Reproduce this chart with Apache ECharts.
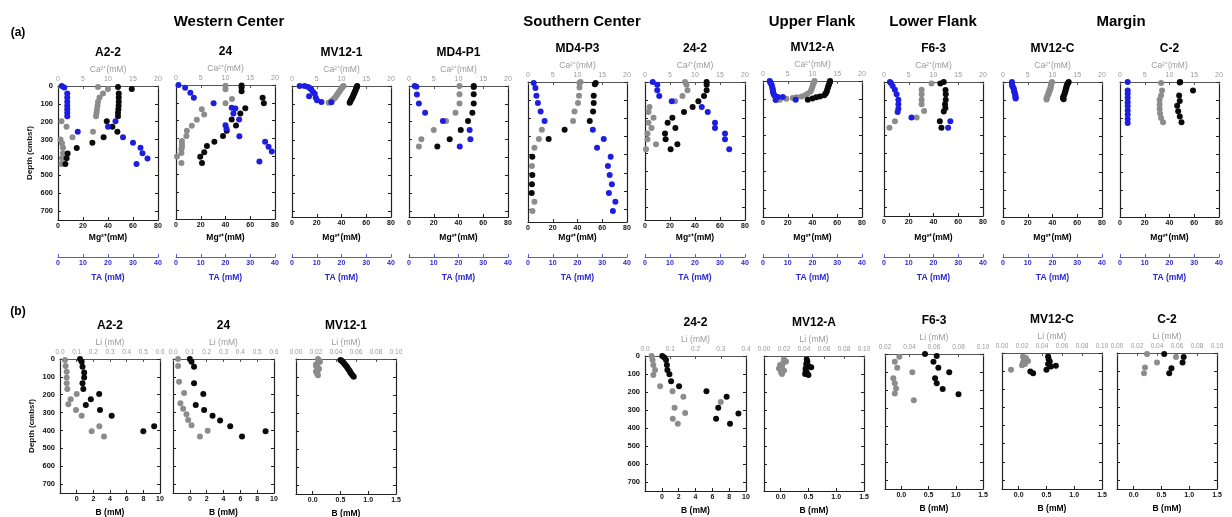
<!DOCTYPE html>
<html><head><meta charset="utf-8">
<script src="https://cdn.jsdelivr.net/npm/echarts@6/dist/echarts.min.js"></script>
<style>html,body{margin:0;padding:0;background:#fff}#c{width:1232px;height:517px}</style>
</head><body><div id="c"></div>
<script>
// ---------- DATA: [value, depth (cmbsf)] ----------
// (a) top row: Mg2+ (mM), Ca2+ (mM), TA (mM)
const A22_Mg = [[48,5],[59,17],[48.6,42],[48.6,65],[48.6,88],[48.5,110],[48.3,130],[48,150],[48,170],[39,197],[43.5,228],[47.5,256],[36.5,287],[27.5,317],[15,347],[7.7,378],[6.9,404],[5.9,436]];
const A22_Ca = [[8,5],[10,17],[9,42],[8.3,65],[8,88],[7.9,110],[7.8,130],[7.7,150],[7.6,170],[0.7,197],[1.7,228],[7,256],[2.9,287],[0.5,300],[0.8,320],[1,345],[1,376],[0.8,404],[0.7,436]];
const A22_TA = [[1.5,0],[2.5,8],[3.7,42],[3.7,65],[3.7,88],[3.7,110],[3.7,130],[3.7,150],[3.7,170],[23,197],[20,228],[7.9,256],[26,287],[30,317],[33,345],[33.8,376],[35.8,406],[31.4,436]];

const S24_Mg = [[53,3],[53,14],[53,35],[70,72],[71,102],[56,130],[52,160],[45,193],[48.5,226],[41,256],[38,286],[31,317],[25,342],[22.8,377],[19.6,402],[21,436]];
const S24_Ca = [[10,4],[10,24],[11.3,78],[10,102],[5.2,136],[5.7,165],[4.2,195],[3.2,228],[2.2,256],[2.1,286],[1.2,313],[1.2,330],[1.2,345],[1.1,360],[1.1,380],[0.2,400],[1.1,436]];
const S24_TA = [[1,0],[3.7,15],[5.8,43],[7.2,72],[15.2,102],[22.5,128],[24,132],[23.2,160],[25.5,193],[20,225],[20.4,245],[25.6,287],[36,318],[37.4,345],[38.7,372],[33.7,428]];

const MV121_Mg = [[52.7,0],[52.5,4],[52.2,9],[51.8,16],[51.4,24],[50.8,32],[50.3,40],[49.8,48],[49.4,56],[48.8,64],[48.2,72],[47.5,80],[47,88],[46.6,93]];
const MV121_Ca = [[10.4,0],[10.2,4],[10.1,10],[9.9,17],[9.7,25],[9.5,33],[9.3,41],[9.1,49],[8.9,57],[8.7,65],[8.4,73],[8.1,81],[7.7,89],[7.4,93]];
const MV121_TA = [[3.1,0],[5.1,0],[6.5,6],[7.3,13],[7.8,20],[8.5,33],[9.2,43],[6.9,57],[9.6,65],[10.1,80],[11.9,89],[15.9,91]];

const MD4P1_Mg = [[52.3,0],[52.3,5],[52.3,46],[52.3,98],[51.2,150],[47.7,197],[41.8,247],[32.9,299],[22.9,340]];
const MD4P1_Ca = [[10.2,0],[10.2,46],[10.2,98],[9.4,150],[7.5,197],[5,247],[2.5,299],[2,340]];
const MD4P1_TA = [[2.3,0],[3,4],[3.2,48],[4,98],[6.5,150],[13.7,197],[24.5,247],[24.8,299],[20.5,340]];

const MD4P3_Mg = [[54.7,5],[54,12],[53.1,75],[53.1,116],[52.6,162],[49.9,214],[29.6,263],[16.7,313],[3.5,411],[3.5,512],[3.2,562],[3,610]];
const MD4P3_Ca = [[10.6,0],[10.4,5],[10.4,30],[10.3,75],[10.1,116],[9.4,162],[9.1,214],[2.8,263],[2.2,313],[1.3,361],[0.8,462],[1.3,659],[0.9,709]];
const MD4P3_TA = [[2.3,5],[3,33],[3.4,75],[4,116],[5.1,162],[6.7,214],[26.2,263],[30.6,313],[27.9,361],[33.4,411],[32.3,462],[33,512],[33.9,562],[32.7,610],[35.3,659],[34.3,709]];

const S242_Mg = [[49.3,0],[49.3,15],[49.3,46],[47.2,78],[42.7,108],[38.1,139],[31.2,167],[21.9,199],[18.1,227],[24.3,256],[16,288],[16.5,320],[25.9,348],[20.5,375]];
const S242_Ca = [[8,0],[8.3,15],[8.5,46],[7.5,78],[6,108],[0.9,139],[0.7,167],[1.7,199],[0.7,227],[1.3,256],[0.5,288],[0.5,320],[2.2,348],[0.2,375]];
const S242_TA = [[3.1,0],[4.9,15],[4.9,46],[5.7,78],[10.7,108],[22.7,139],[25.1,167],[28,227],[28,256],[32,288],[32,320],[33.7,375]];

const MV12A_Mg = [[54.2,0],[54,6],[53.7,13],[53.2,22],[52.6,32],[52.2,42],[51.8,52],[51.2,62],[50.5,70],[49.5,78],[46,86],[43,90],[40,96],[36.2,104]];
const MV12A_Ca = [[10.4,0],[10.3,8],[10.1,18],[10,30],[9.8,45],[9.6,58],[9,70],[8.5,78],[7.8,85],[6.8,90],[6,94],[4.7,98],[3.4,104],[2.6,106]];
const MV12A_TA = [[2.7,0],[2.9,5],[3.1,11],[3.4,19],[3.6,27],[3.8,37],[3.9,46],[4,55],[4.1,62],[4.3,72],[4.6,80],[5,86],[6,88],[8,88],[5.1,103],[13.2,103]];

const F63_Mg = [[48.3,0],[45.5,9],[49.7,45],[49.9,69],[49.9,99],[49.3,125],[49.6,145],[48.3,165],[45.1,220],[46.4,256]];
const F63_Ca = [[9.6,9],[7.6,43],[7.6,69],[7.6,99],[7.6,125],[8.1,162],[6.6,198],[2.2,220],[1.1,256]];
const F63_TA = [[2.4,0],[2.8,6],[3.5,22],[4.4,43],[5.1,69],[5.8,99],[5.8,125],[5.8,150],[5.5,168],[11.1,198],[26.8,220],[25.9,256]];

const MV12C_Mg = [[53.1,0],[52.6,6],[52,12],[51.5,20],[51.3,28],[51,35],[50.6,43],[50.4,51],[50,60],[49.6,68],[49.2,76],[48.6,84],[48.5,90],[49,96]];
const MV12C_Ca = [[9.9,0],[9.8,6],[9.7,12],[9.7,20],[9.6,28],[9.6,36],[9.4,45],[9.4,52],[9.2,60],[9.2,68],[9,76],[8.9,84],[8.8,92],[8.8,97]];
const MV12C_TA = [[3.6,0],[3.6,8],[3.7,16],[3.8,24],[4.2,32],[4.4,40],[4.4,48],[4.6,56],[4.8,64],[5,72],[5,80],[5.1,88],[5.1,92]];

const C2_Mg = [[48.6,0],[48.3,3],[59,47],[47.8,75],[48.3,106],[46.2,132],[47,162],[48.3,192],[49.7,224]];
const C2_Ca = [[8.3,5],[8.5,47],[8.3,75],[8,99],[8,125],[8,150],[8.1,175],[8.3,200],[8.7,224]];
const C2_TA = [[3.1,0],[3.1,47],[3.1,65],[3.1,88],[3.1,112],[3.1,134],[3.1,158],[3.1,181],[3.1,205],[3.1,228]];

// (b) bottom row: B (mM), Li (mM)
const A22b_B  = [[0.4,0],[0.6,15],[0.7,43],[0.9,76],[0.9,104],[0.7,136],[0.8,168],[2.7,196],[1.7,225],[1.1,257],[2.8,285],[4.2,317],[9.3,376],[8,404]];
const A22b_Li = [[0.03,6],[0.034,39],[0.04,71],[0.04,104],[0.04,136],[0.044,168],[0.1,196],[0.064,225],[0.05,253],[0.096,285],[0.13,317],[0.236,376],[0.19,404],[0.264,434]];
const S24b_B  = [[0,0],[0.2,15],[0.5,43],[0.5,136],[1.6,196],[0.7,257],[1.7,285],[2.7,317],[3.6,344],[4.8,376],[9,404],[6.2,434]];
const S24b_Li = [[0.03,0],[0.03,39],[0.036,128],[0.066,190],[0.044,248],[0.06,279],[0.08,309],[0.09,341],[0.11,371],[0.206,402],[0.16,434]];
const MV121b_B  = [[0.5,5],[0.52,10],[0.54,15],[0.56,22],[0.58,30],[0.6,38],[0.62,45],[0.63,52],[0.65,60],[0.67,68],[0.68,76],[0.7,84],[0.72,92],[0.74,98]];
const MV121b_Li = [[0.022,0],[0.023,8],[0.024,15],[0.022,22],[0.02,30],[0.02,38],[0.021,46],[0.023,54],[0.022,62],[0.02,70],[0.021,80],[0.022,90]];
const S242b_B  = [[0.06,0],[0.3,9],[0.5,22],[0.6,50],[0.66,78],[0.9,102],[1.1,140],[2.05,168],[5.3,196],[7.7,227],[6.7,287],[9.1,320],[6.45,348],[8.1,376]];
const S242b_Li = [[0.026,0],[0.03,22],[0.033,50],[0.04,78],[0.033,106],[0.06,168],[0.109,196],[0.152,227],[0.3,255],[0.117,287],[0.159,316],[0.11,348],[0.13,376]];
const MV12Ab_B  = [[0.47,20],[0.48,30],[0.46,45],[0.5,55],[0.55,62],[0.45,70],[0.45,80],[0.47,90],[0.44,100],[0.5,105]];
const MV12Ab_Li = [[0.02,20],[0.022,30],[0.019,40],[0.016,50],[0.018,60],[0.015,70],[0.02,80],[0.017,90],[0.018,100]];
const F63b_B  = [[0.435,0],[0.65,11],[0.59,43],[0.68,77],[0.88,102],[0.62,135],[0.65,163],[0.76,195],[1.05,223]];
const F63b_Li = [[0.0317,15],[0.028,43],[0.03,77],[0.0423,102],[0.0268,135],[0.028,163],[0.029,191],[0.028,219],[0.0435,257]];
const MV12Cb_B  = [[0.53,19],[0.54,34],[0.56,47],[0.53,61],[0.67,71],[0.58,75],[0.5,93],[0.21,102],[0.26,112]];
const MV12Cb_Li = [[0.009,92],[0.021,20],[0.024,28],[0.022,36],[0.026,44],[0.021,52],[0.023,60],[0.02,68]];
const C2b_B  = [[0.55,6],[0.9,22],[0.88,52],[0.68,84],[0.64,112]];
const C2b_Li = [[0.03,6],[0.059,22],[0.04,52],[0.028,80],[0.027,112]];

// axis ranges / tick labels
const MG_AXIS = {min:0, max:80, step:20};
const CA_AXIS = {min:0, max:20, step:5};
const TA_AXIS = {min:0, max:40, step:10};
const B_WIDE = {min:-2, max:10, step:2, dec:0};
const B_NARROW = {min:-0.3, max:1.5, custom:[0,0.5,1,1.5], dec:1};
const LI_06 = {min:0, max:0.6, step:0.1, dec:1};
const LI_04 = {min:0, max:0.4, step:0.1, dec:1};
const LI_010 = {min:0, max:0.1, step:0.02, dec:2};
const LI_F63 = {min:0.02, max:0.1, step:0.02, dec:2};
const SECTIONS = ['Western Center','Southern Center','Upper Flank','Lower Flank','Margin'];

// ---------- LAYOUT ----------
const topPanels = [
  {t:'A2-2',   box:[58,86,100,134],  yMax:750, yLab:true, d:[A22_Mg,A22_Ca,A22_TA]},
  {t:'24',     box:[176,85,99,134],  yMax:750, d:[S24_Mg,S24_Ca,S24_TA]},
  {t:'MV12-1', box:[292,86,99,131],  yMax:730, d:[MV121_Mg,MV121_Ca,MV121_TA]},
  {t:'MD4-P1', box:[409,86,99,131],  yMax:735, d:[MD4P1_Mg,MD4P1_Ca,MD4P1_TA]},
  {t:'MD4-P3', box:[528,82,99,140],  yMax:770, d:[MD4P3_Mg,MD4P3_Ca,MD4P3_TA]},
  {t:'24-2',   box:[645,82,100,138], yMax:770, d:[S242_Mg,S242_Ca,S242_TA]},
  {t:'MV12-A', box:[763,81,99,136],  yMax:750, d:[MV12A_Mg,MV12A_Ca,MV12A_TA]},
  {t:'F6-3',   box:[884,82,99,134],  yMax:750, d:[F63_Mg,F63_Ca,F63_TA]},
  {t:'MV12-C', box:[1003,82,99,135], yMax:750, d:[MV12C_Mg,MV12C_Ca,MV12C_TA]},
  {t:'C-2',    box:[1120,82,99,135], yMax:750, d:[C2_Mg,C2_Ca,C2_TA]}
];
const botPanels = [
  {t:'A2-2',   box:[60,359,100,134],  yMax:750, yLab:true, bx:B_WIDE,   li:LI_06,  d:[A22b_B,A22b_Li]},
  {t:'24',     box:[173,359,101,134], yMax:750, bx:B_WIDE,   li:LI_06,  d:[S24b_B,S24b_Li]},
  {t:'MV12-1', box:[296,359,100,135], yMax:750, bx:B_NARROW, li:LI_010, d:[MV121b_B,MV121b_Li]},
  {t:'24-2',   box:[645,356,101,135], yMax:750, yLab:true, bx:B_WIDE,   li:LI_04,  d:[S242b_B,S242b_Li]},
  {t:'MV12-A', box:[764,356,100,135], yMax:750, bx:B_NARROW, li:LI_010, d:[MV12Ab_B,MV12Ab_Li]},
  {t:'F6-3',   box:[885,354,98,135],  yMax:750, bx:B_NARROW, li:LI_F63, d:[F63b_B,F63b_Li]},
  {t:'MV12-C', box:[1002,353,100,136],yMax:750, bx:B_NARROW, li:LI_010, d:[MV12Cb_B,MV12Cb_Li]},
  {t:'C-2',    box:[1117,353,100,136],yMax:750, bx:B_NARROW, li:LI_010, d:[C2b_B,C2b_Li]}
];
const sectionX = [229, 582, 812, 933, 1121];

// ---------- BUILD ----------
const FONT = '"Liberation Sans", Arial, Helvetica, sans-serif';
const BLACK = '#0a0a0a', GRAY = '#8c8c8c', BLUE = '#1e1ee0';
const grid = [], xAxis = [], yAxis = [], series = [], graphic = [];

function txt(x, y, text, size, color, weight, rot) {
  graphic.push({type:'text', x:x, y:y, rotation: rot || 0, silent:true,
    style:{text:text, font:(weight||'normal')+' '+size+'px '+FONT, fill:color,
      align:'center', verticalAlign:'middle', textAlign:'center', textVerticalAlign:'middle'}});
}
function fmt(dec) { return v => (v < -1e-9 ? '' : (dec ? v.toFixed(dec) : String(Math.round(v)))); }
function xAx(g, spec, pos, col, lineCol, extra) {
  const a = {gridIndex:g, type:'value', position:pos, min:spec.min, max:spec.max,
    splitLine:{show:false},
    axisLine:{show:true, onZero:false, lineStyle:{color:lineCol, width:1.2}},
    axisTick:{show:true, inside:true, length:3, lineStyle:{color:lineCol, width:1}},
    axisLabel:{show:true, fontSize:7, fontFamily:FONT, fontWeight:'bold', color:col, margin:3, formatter:fmt(spec.dec||0)}};
  if (spec.step) a.interval = spec.step;
  if (spec.custom) { a.splitNumber = 4; a.axisLabel.customValues = spec.custom; a.axisTick.customValues = spec.custom; }
  xAxis.push(Object.assign(a, extra || {}));
  return xAxis.length - 1;
}
function yAxes(g, p) {
  const base = {gridIndex:g, type:'value', inverse:true, min:0, max:p.yMax, interval:100,
    splitLine:{show:false},
    axisLine:{show:true, onZero:false, lineStyle:{color:'#222', width:1.2}},
    axisTick:{show:true, inside:true, length:3, lineStyle:{color:'#222'}}};
  yAxis.push(Object.assign({}, base, {position:'left',
    axisLabel:{show:!!p.yLab, fontSize:7.5, fontFamily:FONT, fontWeight:'bold', color:'#111', margin:5,
      formatter: v => (v % 100 === 0 ? String(v) : '')}}));
  yAxis.push(Object.assign({}, base, {position:'right', axisLabel:{show:false}}));
  return yAxis.length - 2;
}
function scat(xi, yi, data, color) {
  series.push({type:'scatter', xAxisIndex:xi, yAxisIndex:yi, data:data, symbolSize:6, clip:false,
    itemStyle:{color:color, opacity:1}, silent:true});
}

topPanels.forEach(p => {
  const [l, t, w, h] = p.box; const b = t + h; const g = grid.length;
  grid.push({left:l, top:t, width:w, height:h});
  const xMg = xAx(g, MG_AXIS, 'bottom', '#111', '#222');
  const xCa = xAx(g, CA_AXIS, 'top', '#9a9a9a', '#555', {axisLabel:{show:true, fontSize:7, fontFamily:FONT, color:'#9a9a9a', margin:3}});
  const xTA = xAx(g, TA_AXIS, 'bottom', '#2a2ad0', '#5a5ad6', {offset: 257 - b});
  const yi = yAxes(g, p);
  scat(xCa, yi, p.d[1], GRAY);
  scat(xMg, yi, p.d[0], BLACK);
  scat(xTA, yi, p.d[2], BLUE);
  const cx = l + w / 2;
  txt(cx, t - 33, p.t, 12, '#000', 'bold');
  txt(cx, t - 16.5, 'Ca²⁺(mM)', 8.5, '#9a9a9a');
  txt(cx, 238, 'Mg²⁺(mM)', 8.5, '#000', 'bold');
  txt(cx, 278, 'TA (mM)', 8.5, '#2a2ad0', 'bold');
});
botPanels.forEach(p => {
  const [l, t, w, h] = p.box; const b = t + h; const g = grid.length;
  grid.push({left:l, top:t, width:w, height:h});
  const xB = xAx(g, p.bx, 'bottom', '#111', '#222');
  const xLi = xAx(g, p.li, 'top', '#9a9a9a', '#555', {axisLabel:{show:true, fontSize:6.5, fontFamily:FONT, color:'#9a9a9a', margin:3, formatter:fmt(p.li.dec)}});
  const yi = yAxes(g, p);
  scat(xLi, yi, p.d[1], GRAY);
  scat(xB, yi, p.d[0], BLACK);
  const cx = l + w / 2;
  txt(cx, t - 33, p.t, 12, '#000', 'bold');
  txt(cx, t - 16.5, 'Li (mM)', 8.5, '#9a9a9a');
  txt(cx, b + 20, 'B (mM)', 8.5, '#000', 'bold');
});
SECTIONS.forEach((s, i) => txt(sectionX[i], 22, s, 15, '#000', 'bold'));
txt(18, 33, '(a)', 12, '#000', 'bold');
txt(18, 312, '(b)', 12, '#000', 'bold');
txt(30, 153, 'Depth (cmbsf)', 8, '#111', 'bold', Math.PI / 2);
txt(32, 426, 'Depth (cmbsf)', 8, '#111', 'bold', Math.PI / 2);

const chart = echarts.init(document.getElementById('c'), null, {renderer:'canvas'});
chart.setOption({animation:false, backgroundColor:'#fff', grid, xAxis, yAxis, series, graphic});
</script></body></html>
